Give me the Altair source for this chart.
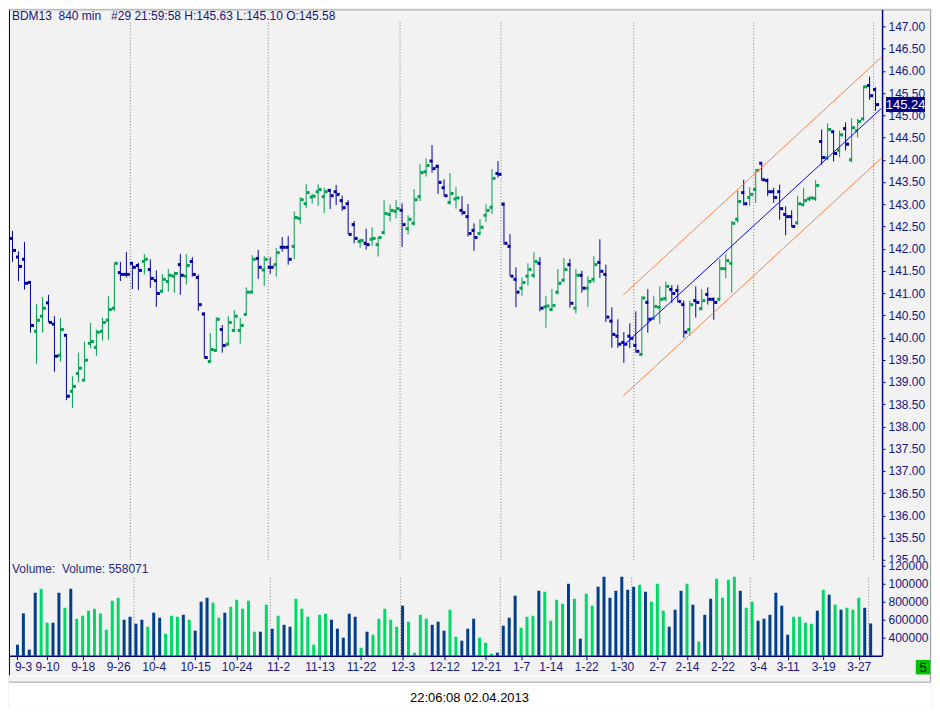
import json
import numpy as np
import pandas as pd
import altair as alt

# ---------------- data ----------------
OPEN = [142.23, 141.81, 141.76, 141.24, 140.14, 140.48, 140.78, 140.30, 139.60, 140.05,
        138.79, 139.19, 139.04, 139.87, 139.78, 140.14, 140.39, 140.66, 141.46, 141.42,
        141.67, 141.62, 141.71, 141.53, 141.28, 141.04, 141.26, 141.38, 141.64, 141.38,
        141.71, 141.35, 140.53, 139.46, 139.71, 140.18, 139.85, 140.16, 140.16, 140.52,
        141.02, 141.78, 141.52, 141.58, 141.64, 142.03, 142.03, 142.05, 142.68, 143.01,
        143.16, 143.28, 143.17, 143.31, 143.28, 143.08, 143.01, 142.54, 142.16, 142.12,
        142.21, 142.09, 142.36, 142.77, 142.84, 142.86, 142.45, 142.57, 143.17, 143.73,
        143.97, 143.85, 143.37, 143.04, 143.12, 142.86, 142.72, 142.41, 142.34, 142.75,
        142.93, 143.69, 143.00, 142.05, 141.31, 141.11, 141.38, 141.40, 141.67, 140.69,
        140.63, 141.02, 141.29, 141.64, 140.66, 141.40, 141.11, 141.31, 141.69, 141.42,
        140.37, 140.03, 139.89, 140.03, 139.82, 139.62, 140.79, 140.43, 140.68, 140.88,
        141.08, 141.06, 140.74, 140.18, 140.83, 140.65, 140.97, 140.86, 140.86, 141.55,
        141.67, 142.66, 143.26, 143.15, 143.33, 143.92, 143.53, 143.28, 143.28, 142.77,
        142.72, 142.58, 142.99, 143.12, 143.13, 144.41, 144.04, 144.63, 144.21, 144.70,
        144.00, 144.65, 144.92, 145.67, 145.58]
HIGH = [142.40, 141.94, 142.15, 141.25, 140.75, 140.91, 140.96, 140.48, 140.44, 140.05,
        139.13, 139.66, 139.91, 140.33, 140.18, 140.45, 140.93, 141.68, 141.70, 141.92,
        141.70, 141.68, 141.88, 141.76, 141.51, 141.43, 141.54, 141.48, 141.88, 141.88,
        141.81, 141.42, 140.57, 140.10, 140.46, 140.28, 140.48, 140.62, 140.44, 141.13,
        141.85, 141.97, 141.83, 141.81, 142.01, 142.26, 142.28, 142.84, 143.16, 143.45,
        143.24, 143.45, 143.37, 143.34, 143.43, 143.19, 143.09, 142.62, 142.23, 142.45,
        142.48, 142.27, 143.10, 142.99, 143.09, 143.02, 142.75, 143.34, 143.90, 144.03,
        144.33, 143.89, 143.56, 143.70, 143.38, 143.18, 143.00, 142.57, 142.66, 143.00,
        143.79, 143.97, 143.04, 142.33, 141.58, 141.35, 141.67, 141.92, 141.81, 140.93,
        141.09, 141.54, 141.79, 141.77, 141.54, 141.50, 141.38, 141.83, 142.21, 141.64,
        140.68, 140.41, 140.12, 140.32, 140.59, 140.93, 141.09, 140.93, 141.15, 141.26,
        141.18, 141.18, 140.83, 140.83, 141.15, 141.09, 141.13, 140.90, 141.76, 141.87,
        142.62, 143.31, 143.55, 143.38, 143.78, 143.94, 143.58, 143.37, 143.44, 142.95,
        142.86, 143.19, 143.37, 143.17, 143.54, 144.68, 144.82, 144.66, 144.65, 144.84,
        144.93, 144.92, 145.67, 145.87, 145.63]
LOW = [141.70, 141.27, 141.08, 140.11, 139.41, 140.11, 140.34, 139.23, 139.46, 138.59,
       138.41, 138.99, 139.02, 139.76, 139.59, 139.93, 139.95, 140.60, 141.27, 141.35,
       141.09, 141.07, 141.42, 141.12, 140.69, 141.01, 141.03, 141.01, 140.96, 141.19,
       141.37, 140.60, 139.53, 139.44, 139.69, 139.66, 139.82, 140.12, 139.86, 140.51,
       141.01, 141.32, 141.16, 141.43, 141.37, 141.93, 141.64, 141.76, 142.56, 142.92,
       143.01, 142.96, 142.80, 142.89, 142.98, 142.85, 142.32, 142.12, 142.02, 141.98,
       142.06, 141.82, 142.32, 142.61, 142.68, 142.04, 142.32, 142.52, 143.07, 143.62,
       143.71, 143.23, 143.17, 142.99, 142.90, 142.75, 142.27, 141.95, 142.32, 142.60,
       142.78, 143.60, 142.09, 141.38, 140.68, 140.94, 141.17, 141.34, 140.59, 140.22,
       140.61, 140.97, 141.24, 140.67, 140.54, 141.01, 140.69, 141.23, 141.34, 140.35,
       139.77, 139.77, 139.43, 139.76, 139.66, 139.60, 140.11, 140.39, 140.31, 140.81,
       140.78, 140.79, 139.99, 140.04, 140.45, 140.63, 140.74, 140.40, 140.86, 141.33,
       141.01, 142.58, 142.97, 142.97, 143.03, 143.53, 143.18, 143.03, 142.65, 142.30,
       142.48, 142.54, 142.95, 143.07, 143.07, 143.89, 143.99, 143.96, 144.05, 144.21,
       143.94, 144.50, 144.88, 145.35, 145.10]
CLOSE = [141.96, 141.60, 141.22, 140.27, 140.39, 140.66, 140.34, 139.58, 140.18, 138.68,
         138.90, 139.31, 139.49, 139.91, 140.12, 140.34, 140.63, 141.67, 141.42, 141.42,
         141.58, 141.51, 141.76, 141.33, 140.99, 141.31, 141.40, 141.44, 141.40, 141.62,
         141.42, 140.74, 139.55, 139.73, 140.41, 139.82, 140.34, 140.48, 140.27, 141.02,
         141.76, 141.58, 141.76, 141.58, 141.91, 142.03, 141.76, 142.70, 143.10, 143.26,
         143.18, 143.33, 143.28, 143.19, 143.22, 142.92, 142.32, 142.23, 142.18, 142.09,
         142.23, 142.25, 142.79, 142.86, 142.90, 142.54, 142.66, 143.10, 143.71, 143.87,
         143.80, 143.49, 143.19, 143.24, 143.14, 142.81, 142.34, 142.25, 142.48, 142.86,
         143.58, 143.67, 142.12, 141.38, 141.02, 141.24, 141.53, 141.71, 140.66, 140.71,
         140.72, 141.22, 141.53, 140.77, 141.40, 141.11, 141.26, 141.64, 141.49, 140.46,
         140.07, 139.85, 139.85, 139.98, 139.69, 140.89, 140.41, 140.70, 140.86, 141.15,
         140.99, 140.81, 140.12, 140.74, 140.79, 140.83, 140.86, 140.79, 141.55, 141.73,
         142.57, 143.06, 143.01, 143.22, 143.76, 143.55, 143.28, 143.15, 142.90, 142.72,
         142.50, 143.01, 143.08, 143.14, 143.42, 144.05, 144.68, 144.14, 144.56, 144.35,
         144.72, 144.86, 145.64, 145.44, 145.24]
VOLUME = [322000, 670000, 267000, 900000, 944000, 567000, 567000, 900000, 733000, 944000,
          611000, 644000, 700000, 722000, 670000, 489000, 811000, 844000, 600000, 633000,
          555000, 600000, 522000, 678000, 622000, 444000, 644000, 633000, 655000, 600000,
          478000, 800000, 844000, 789000, 622000, 678000, 744000, 822000, 722000, 811000,
          467000, 467000, 767000, 500000, 644000, 544000, 522000, 833000, 722000, 633000,
          322000, 655000, 667000, 600000, 500000, 400000, 667000, 633000, 289000, 467000,
          433000, 611000, 722000, 600000, 522000, 756000, 578000, 233000, 655000, 611000,
          544000, 578000, 478000, 711000, 411000, 367000, 500000, 611000, 400000, 344000,
          222000, 233000, 533000, 622000, 867000, 511000, 633000, 644000, 922000, 911000,
          589000, 822000, 778000, 1000000, 833000, 389000, 889000, 756000, 967000, 1078000,
          844000, 922000, 1078000, 933000, 967000, 989000, 911000, 800000, 1000000, 700000,
          522000, 711000, 922000, 1000000, 767000, 356000, 655000, 833000, 1056000, 844000,
          1044000, 1078000, 922000, 733000, 800000, 589000, 611000, 655000, 900000, 756000,
          433000, 633000, 633000, 567000, 555000, 700000, 933000, 878000, 767000, 711000,
          733000, 711000, 844000, 733000, 558071]

TICK_POS = [0, 5, 11, 17, 23, 30, 37, 44, 51, 58, 65, 72, 79, 85, 90, 96, 102, 108,
            113, 119, 125, 130, 136, 142]
TICK_LABELS = ["9-3", "9-10", "9-18", "9-26", "10-4", "10-15", "10-24", "11-2", "11-13",
               "11-22", "12-3", "12-12", "12-21", "1-7", "1-14", "1-22", "1-30", "2-7",
               "2-14", "2-22", "3-4", "3-11", "3-19", "3-27"]
GRID_POS = [19.667, 42.667, 64.667, 81.5, 103.667, 123.667, 143.667]
PRICE_TICKS = [135.0, 135.5, 136.0, 136.5, 137.0, 137.5, 138.0, 138.5, 139.0, 139.5,
               140.0, 140.5, 141.0, 141.5, 142.0, 142.5, 143.0, 143.5, 144.0, 144.5,
               145.0, 145.5, 146.0, 146.5, 147.0]
VOL_TICKS = [400000, 600000, 800000, 1000000, 1200000]
VOL_TICK_LABELS = ["400000", "600000", "800000", "100000", "120000"]
VOL_BASE = 200000

CHANNEL_X = [101.92, 144.92]
CHANNEL_MID = [139.82, 145.15]
CHANNEL_UPPER = [140.96, 146.30]
CHANNEL_LOWER = [138.69, 144.03]

LAST_PRICE = 145.24
HEADER = "BDM13\u00a0 840 min\u00a0\u00a0 #29 21:59:58 H:145.63 L:145.10 O:145.58"
VOLUME_TEXT = "Volume:\u00a0 Volume: 558071"
TIMESTAMP = "22:06:08 02.04.2013"
STATUS = "5"

# ---------------- styling ----------------
FONT = "Liberation Sans"
BG = "#f2f2f2"
NAVY = "#0000a0"
GREEN = "#00a050"
VNAVY = "#023f88"
VGREEN = "#00d966"
AXIS_NAVY = "#000080"
LABEL = "#16167c"
GRID = "#808080"
ORANGE = "#ff7f40"
BLUE = "#0000ff"
FRAME = "#a0a0a0"

W = 874
PH = 552
VH = 95

XS = alt.Scale(domain=[-0.58333, 145.08333], nice=False, zero=False)
YP = alt.Scale(domain=[134.978, 147.382], nice=False, zero=False)
YV = alt.Scale(domain=[200000, 1255556], nice=False, zero=False)

bars = pd.DataFrame({"i": list(range(len(OPEN))), "open": OPEN, "high": HIGH,
                     "low": LOW, "close": CLOSE, "volume": VOLUME})
bars["dir"] = np.where(bars["close"] > bars["open"], "up", "down")

grid_df = pd.DataFrame({"g": GRID_POS})
one = pd.DataFrame({"k": [0]})
band_df = pd.DataFrame({"x0": [CHANNEL_X[0]] * 2, "x1": [CHANNEL_X[1]] * 2,
                        "y0": [CHANNEL_UPPER[0], CHANNEL_LOWER[0]],
                        "y1": [CHANNEL_UPPER[1], CHANNEL_LOWER[1]]})
mid_df = pd.DataFrame({"x0": [CHANNEL_X[0]], "x1": [CHANNEL_X[1]],
                       "y0": [CHANNEL_MID[0]], "y1": [CHANNEL_MID[1]]})
last_df = pd.DataFrame({"p": [LAST_PRICE], "t": [f"{LAST_PRICE:.2f}"]})

price_axis = alt.Axis(orient="right", values=PRICE_TICKS, format=".2f",
                      domainColor=AXIS_NAVY, domainWidth=1.5, tickColor=AXIS_NAVY,
                      tickSize=3, labelColor=LABEL, labelFont=FONT, labelFontSize=12,
                      labelPadding=3, grid=False, title=None, labelFlush=False,
                      labelOverlap=False, zindex=1)
vol_axis = alt.Axis(orient="right", values=VOL_TICKS,
                    labelExpr=f"{json.dumps(VOL_TICK_LABELS)}[indexof({json.dumps(VOL_TICKS)}, datum.value)]",
                    domainColor=AXIS_NAVY, domainWidth=1.5, tickColor=AXIS_NAVY,
                    tickSize=3, labelColor=LABEL, labelFont=FONT, labelFontSize=12,
                    labelPadding=3, grid=False, title=None, labelFlush=False,
                    labelOverlap=False, zindex=1)
x_axis = alt.Axis(orient="bottom", values=TICK_POS,
                  labelExpr=f"{json.dumps(TICK_LABELS)}[indexof({json.dumps(TICK_POS)}, datum.value)]",
                  domainColor=AXIS_NAVY, domainWidth=1.5, tickColor=AXIS_NAVY,
                  tickSize=4, labelColor=LABEL, labelFont=FONT, labelFontSize=12,
                  labelPadding=2, grid=False, title=None, labelFlush=False,
                  labelOverlap=False, zindex=1,
                  labelAlign={"condition": {"test": "datum.value == 0", "value": "left"},
                              "value": "center"},
                  labelOffset={"condition": {"test": "datum.value == 0", "value": -3},
                               "value": 0})

dir_color = alt.Color("dir:N", scale=alt.Scale(domain=["up", "down"], range=[GREEN, NAVY]),
                      legend=None)
vdir_color = alt.Color("dir:N", scale=alt.Scale(domain=["up", "down"], range=[VGREEN, VNAVY]),
                       legend=None)
X = alt.X("i:Q", scale=XS, axis=None)


def PY(field):
    return alt.Y(field, scale=YP, axis=price_axis)


# ---------------- price panel ----------------
p_grid = alt.Chart(grid_df).mark_rule(color=GRID, strokeDash=[1, 2], strokeWidth=1).encode(
    x=alt.X("g:Q", scale=XS, axis=None), y=alt.value(13), y2=alt.value(PH))
p_hl = alt.Chart(bars).mark_rule(strokeWidth=1).encode(
    x=X, y=PY("low:Q"), y2="high:Q", color=dir_color)
p_open = alt.Chart(bars).mark_square(size=9, xOffset=-1, opacity=1).encode(
    x=X, y=PY("open:Q"), color=dir_color)
p_close = alt.Chart(bars).mark_square(size=9, xOffset=2, opacity=1).encode(
    x=X, y=PY("close:Q"), color=dir_color)
p_band = alt.Chart(band_df).mark_rule(color=ORANGE, strokeWidth=1).encode(
    x=alt.X("x0:Q", scale=XS, axis=None), x2="x1:Q", y=PY("y0:Q"), y2="y1:Q")
p_mid = alt.Chart(mid_df).mark_rule(color=BLUE, strokeWidth=1).encode(
    x=alt.X("x0:Q", scale=XS, axis=None), x2="x1:Q", y=PY("y0:Q"), y2="y1:Q")
p_box = alt.Chart(last_df).mark_point(
    shape="M-1,-0.385L1,-0.385L1,0.385L-1,0.385Z", size=1521, filled=True,
    opacity=1, color=AXIS_NAVY, strokeWidth=0).encode(
    x=alt.value(897.5), y=PY("p:Q"))
p_last = alt.Chart(last_df).mark_text(color="white", font=FONT, fontSize=13,
                                      align="center", baseline="middle", dy=0.5).encode(
    x=alt.value(897.5), y=PY("p:Q"), text="t:N")
p_head = alt.Chart(pd.DataFrame({"t": [HEADER]})).mark_text(
    align="left", baseline="middle", font=FONT, fontSize=12, color=LABEL).encode(
    x=alt.value(3), y=alt.value(7), text="t:N")
p_left = alt.Chart(one).mark_rule(color=AXIS_NAVY, strokeWidth=1).encode(
    x=alt.value(0.5), y=alt.value(0), y2=alt.value(PH))
p_top = alt.Chart(one).mark_rule(color=FRAME, strokeWidth=1).encode(
    x=alt.value(0), x2=alt.value(922), y=alt.value(0.5))
p_right = alt.Chart(one).mark_rule(color=FRAME, strokeWidth=1).encode(
    x=alt.value(922.5), y=alt.value(0), y2=alt.value(PH))

price = alt.layer(p_grid, p_hl, p_open, p_close, p_band, p_mid, p_box, p_last,
                  p_head, p_left, p_top, p_right).properties(width=W, height=PH)

# ---------------- volume panel ----------------
VX = alt.X("i:Q", scale=XS, axis=x_axis)
v_cover = alt.Chart(one).mark_rect(color=BG).encode(
    x=alt.value(876), x2=alt.value(922), y=alt.value(0), y2=alt.value(12))
v_grid = alt.Chart(grid_df).mark_rule(color=GRID, strokeDash=[1, 2], strokeWidth=1).encode(
    x=alt.X("g:Q", scale=XS, axis=x_axis), y=alt.value(17), y2=alt.value(VH))
v_bars = alt.Chart(bars).mark_bar(width=3).encode(
    x=VX, y=alt.Y("volume:Q", scale=YV, axis=vol_axis), y2=alt.datum(VOL_BASE),
    color=vdir_color)
v_text = alt.Chart(pd.DataFrame({"t": [VOLUME_TEXT]})).mark_text(
    align="left", baseline="middle", font=FONT, fontSize=12, color="#2a2a78").encode(
    x=alt.value(3), y=alt.value(8), text="t:N")
v_left = alt.Chart(one).mark_rule(color=AXIS_NAVY, strokeWidth=1).encode(
    x=alt.value(0.5), y=alt.value(0), y2=alt.value(115))
v_right = alt.Chart(one).mark_rule(color=FRAME, strokeWidth=1).encode(
    x=alt.value(922.5), y=alt.value(0), y2=alt.value(121))
v_white = alt.Chart(one).mark_rect(color="white").encode(
    x=alt.value(0), x2=alt.value(923), y=alt.value(122), y2=alt.value(147))
v_bottom = alt.Chart(one).mark_rule(color=FRAME, strokeWidth=1).encode(
    x=alt.value(0), x2=alt.value(923), y=alt.value(121.5))
v_bottom2 = alt.Chart(one).mark_rule(color="#ffffff", strokeWidth=1).encode(
    x=alt.value(0), x2=alt.value(922), y=alt.value(115.5))
v_status = alt.Chart(one).mark_square(size=210, color="#00c000", opacity=1).encode(
    x=alt.value(915), y=alt.value(106.5))
v_status_t = alt.Chart(pd.DataFrame({"t": [STATUS]})).mark_text(
    font=FONT, fontSize=13, color="#002000", align="center", baseline="middle").encode(
    x=alt.value(915), y=alt.value(107), text="t:N")
v_time = alt.Chart(pd.DataFrame({"t": [TIMESTAMP]})).mark_text(
    font=FONT, fontSize=13, color="black", align="center", baseline="middle").encode(
    x=alt.value(461), y=alt.value(137), text="t:N")

volume = alt.layer(v_cover, v_grid, v_bars, v_text, v_left, v_right, v_white, v_bottom,
                   v_bottom2, v_status, v_status_t, v_time).properties(width=W, height=VH)

chart = alt.vconcat(price, volume, spacing=0, bounds="flush", padding=0).resolve_scale(
    color="independent").configure(background=BG).configure_view(strokeWidth=0)

chart.save("out.html", embed_options={"renderer": "svg", "actions": False})
